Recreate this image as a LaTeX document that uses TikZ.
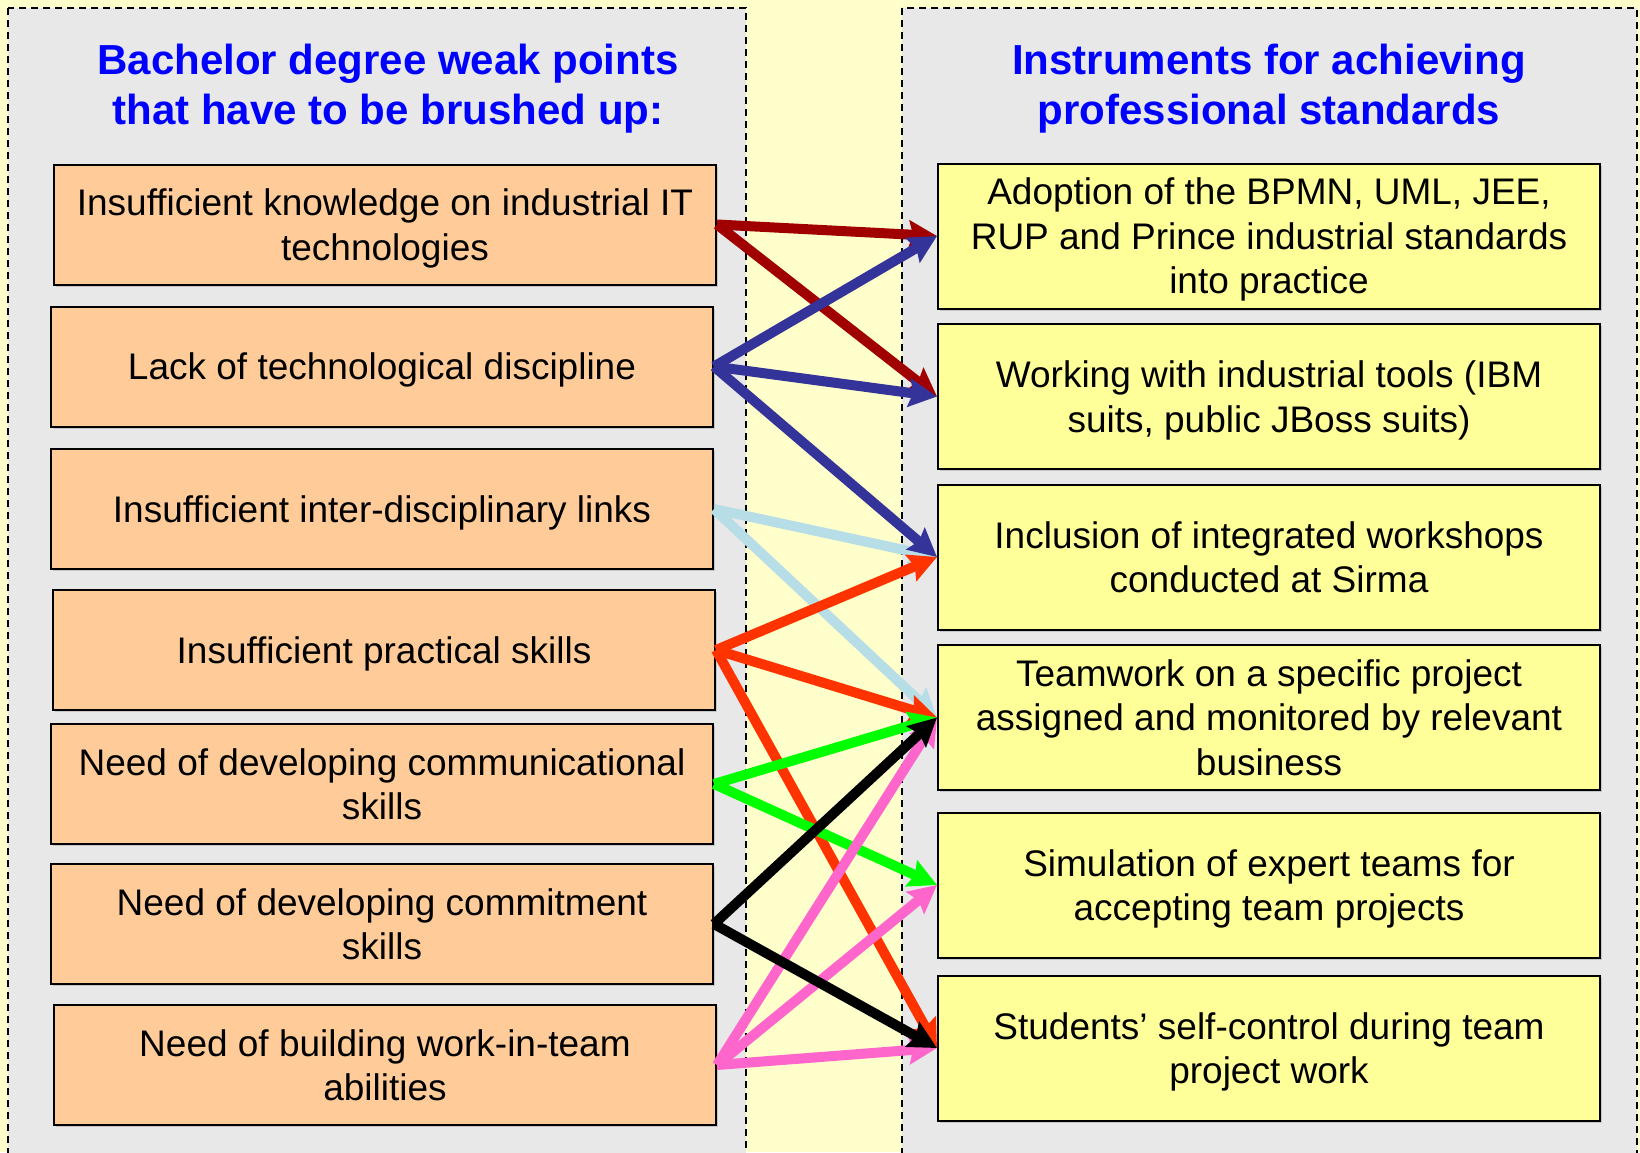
\documentclass[tikz,border=0pt]{standalone}
\usepackage{fontspec}
\setmainfont{Liberation Sans}
\usepackage{tikz}
\usetikzlibrary{arrows.meta}
\usetikzlibrary{shadows}

\definecolor{bgyellow}{HTML}{FFFFCC}
\definecolor{panelgray}{HTML}{E8E8E8}
\definecolor{weakfill}{HTML}{FFCC99}
\definecolor{instrfill}{HTML}{FFFF99}
\definecolor{headblue}{HTML}{0000FF}
\definecolor{linkdarkred}{HTML}{A00000}
\definecolor{linknavy}{HTML}{333399}
\definecolor{linklightblue}{HTML}{B7DEE6}
\definecolor{linkred}{HTML}{FF3300}
\definecolor{linkgreen}{HTML}{00FF00}
\definecolor{linkpink}{HTML}{FF66CC}

\tikzset{
  panel/.style={fill=panelgray, draw=black, line width=1.5pt, dash pattern=on 7pt off 5pt},
  heading/.style={align=center, text=headblue, font=\bfseries\fontsize{42}{50}\selectfont},
  weakbox/.style={rectangle, draw=black, line width=2pt, fill=weakfill,
    minimum width=662pt, minimum height=120pt, align=center, inner sep=0pt,
    text depth=-1pt, font=\fontsize{37}{44.5}\selectfont,
    drop shadow={shadow xshift=2pt, shadow yshift=-2pt, fill=black!35}},
  instrbox/.style={weakbox, fill=instrfill, minimum height=145pt},
  link/.style={line width=10pt, -{Stealth[length=28pt, width=28pt, inset=4pt]}}
}

\begin{document}
\begin{tikzpicture}[x=1pt, y=-1pt]
  \useasboundingbox (0,0) rectangle (1640,1152);
  \fill[bgyellow] (0,0) rectangle (1640,1152);
  % the two columns
  \draw[panel] (8,8) rectangle (746,1175);
  \draw[panel] (902,8) rectangle (1637,1175);

  \node[heading] (weakhead) at (388,89) {Bachelor degree weak points\\that have to be brushed up:};
  \node[heading] (instrhead) at (1269,89) {Instruments for achieving\\professional standards};

  % weak points
  \node[weakbox] (weak1) at (385,224.5) {Insufficient knowledge on industrial IT\\technologies};
  \node[weakbox] (weak2) at (382,366.5) {Lack of technological discipline};
  \node[weakbox] (weak3) at (382,509) {Insufficient inter-disciplinary links};
  \node[weakbox] (weak4) at (384,650) {Insufficient practical skills};
  \node[weakbox] (weak5) at (382,784) {Need of developing communicational\\skills};
  \node[weakbox] (weak6) at (382,924) {Need of developing commitment\\skills};
  \node[weakbox] (weak7) at (385,1065) {Need of building work-in-team\\abilities};

  % instruments
  \node[instrbox] (instr1) at (1269,236) {Adoption of the BPMN, UML, JEE,\\RUP and Prince industrial standards\\into practice};
  \node[instrbox] (instr2) at (1269,396.5) {Working with industrial tools (IBM\\suits, public JBoss suits)};
  \node[instrbox] (instr3) at (1269,557) {Inclusion of integrated workshops\\conducted at Sirma};
  \node[instrbox] (instr4) at (1269,717.5) {Teamwork on a specific project\\assigned and monitored by relevant\\business};
  \node[instrbox] (instr5) at (1269,885) {Simulation of expert teams for\\accepting team projects};
  \node[instrbox] (instr6) at (1269,1048) {Students’ self-control during team\\project work};

  % links
  \draw[link, linklightblue] (weak3.east) -- (instr3.west);
  \draw[link, linklightblue] (weak3.east) -- (instr4.west);
  \draw[link, linkdarkred] (weak1.east) -- (instr1.west);
  \draw[link, linkdarkred] (weak1.east) -- (instr2.west);
  \draw[link, linknavy] (weak2.east) -- (instr1.west);
  \draw[link, linknavy] (weak2.east) -- (instr2.west);
  \draw[link, linknavy] (weak2.east) -- (instr3.west);
  \draw[link, linkred] (weak4.east) -- (instr3.west);
  \draw[link, linkred] (weak4.east) -- (instr4.west);
  \draw[link, linkred] (weak4.east) -- (instr6.west);
  \draw[link, linkgreen] (weak5.east) -- (instr4.west);
  \draw[link, linkgreen] (weak5.east) -- (instr5.west);
  \draw[link, linkpink] (weak7.east) -- (instr4.west);
  \draw[link, linkpink] (weak7.east) -- (instr5.west);
  \draw[link, linkpink] (weak7.east) -- (instr6.west);
  \draw[link, black] (weak6.east) -- (instr4.west);
  \draw[link, black] (weak6.east) -- (instr6.west);
\end{tikzpicture}
\end{document}
